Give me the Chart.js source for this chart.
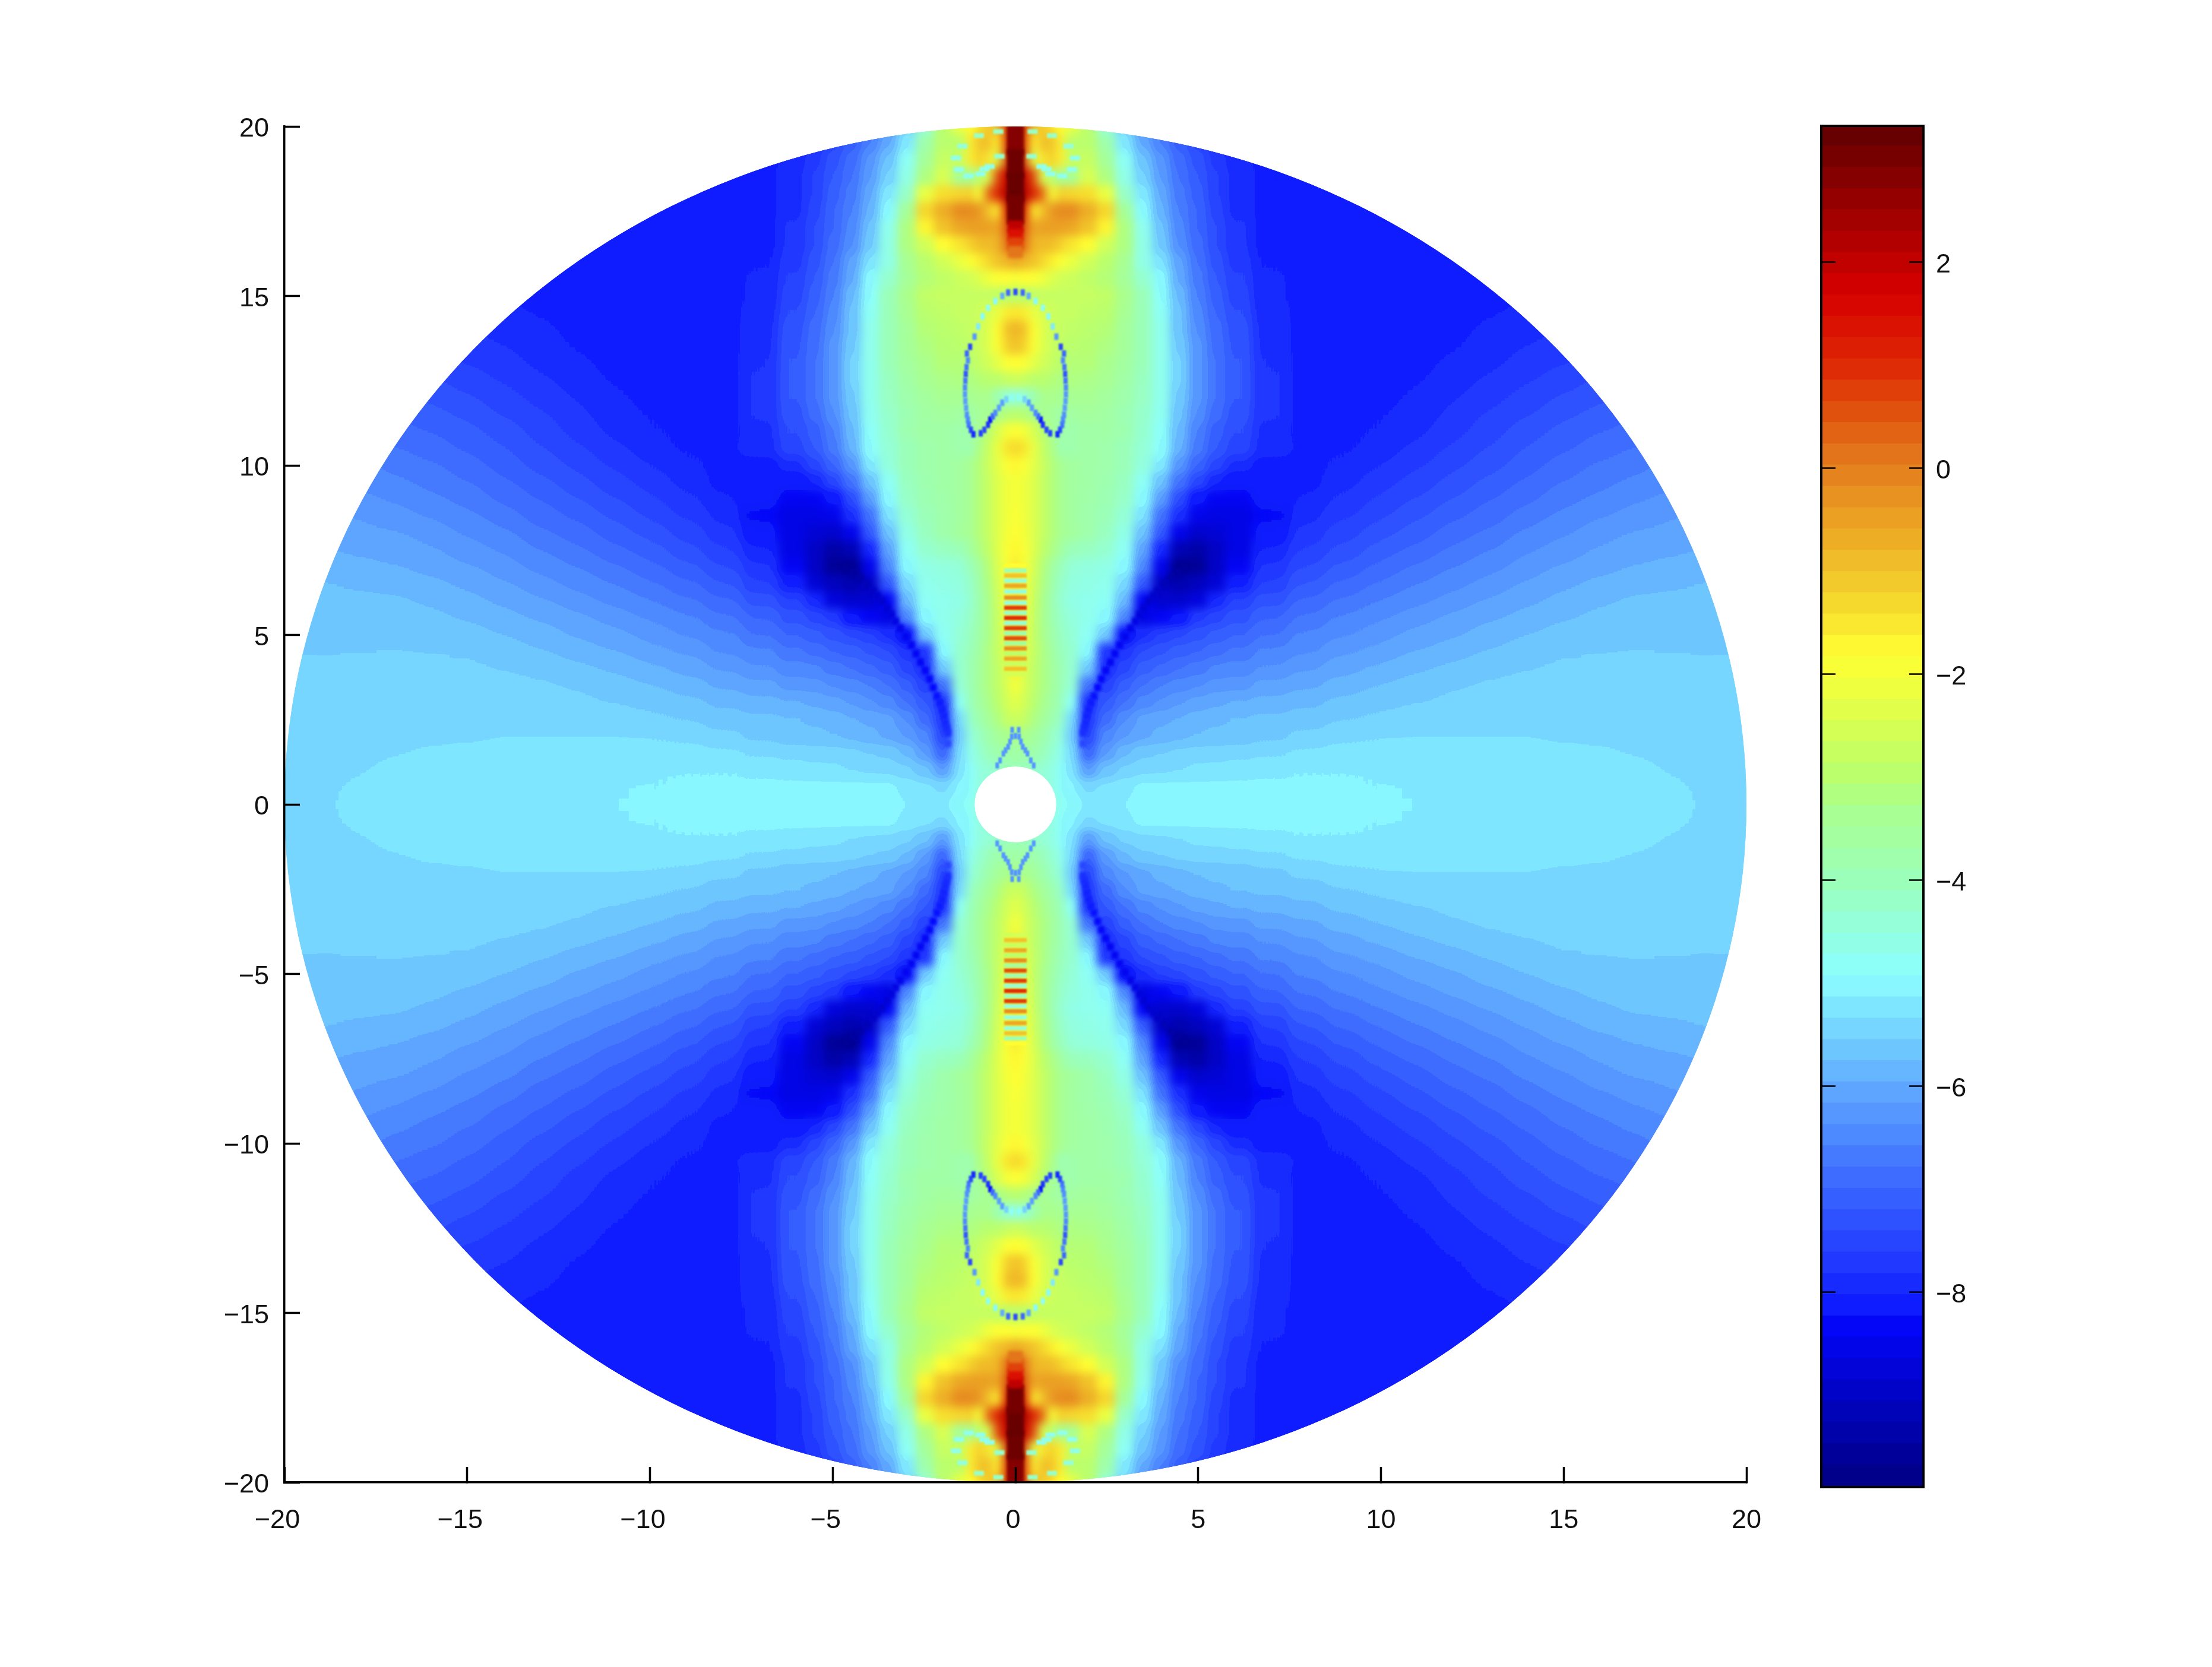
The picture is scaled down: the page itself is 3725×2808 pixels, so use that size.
<!DOCTYPE html>
<html><head><meta charset="utf-8"><title>Heat map</title>
<style>html,body{margin:0;padding:0;background:#fff}#w{position:relative;width:3725px;height:2808px}canvas{position:absolute;left:0;top:0}</style>
<script src="https://cdn.jsdelivr.net/npm/chart.js@4/dist/chart.umd.min.js"></script></head>
<body><div id="w"><canvas id="main" width="3725" height="2808"></canvas><canvas id="bar" width="3725" height="2808"></canvas></div>
<script>
const axisTicks=[-20,-15,-10,-5,0,5,10,15,20];
const colorbarTicks=[-8,-6,-4,-2,0,2];
const colorMin=-9.89,colorMax=3.32,colorLevels=64;
const columnsX=[0,.25,.5,.75,1,1.25,1.5,2,2.5,3,3.5,4,4.5,5,5.5,6,7,8,9,10,11,12,13,14,15,16,17,18,19,20];
const rowsY=[20,19.5,19,18.5,18,17.5,17,16.5,16,15.5,15,14.5,14,13.5,13,12.5,12,11.5,11,10.5,10,9.5,9,8.5,8,7.5,7,6.5,6,5.5,5,4.5,4,3.5,3,2.5,2,1.5,1,.5,0];
const quadrantValues=[
[2.7,.8,-1,-1.1,-1.4,-1.8,-2.2,-3,-4.4,-5.5,-6.4,-7,-7.5,-7.8,-8,-8.1],
[2.8,.8,-1.6,-1,-1,-1.6,-3,-3,-3.8,-5.2,-6,-6.6,-7.1,-7.5,-7.8,-8,-8.15,-8.15],
[3,.8,-2.5,-1.5,-1.2,-1.6,-2.8,-2.8,-3.5,-4.8,-5.7,-6.3,-6.9,-7.3,-7.7,-7.95,-8.1,-8.15,-8.15],
[3.1,1.9,.6,-2.5,-3,-3.5,-3.5,-2.5,-3.2,-4.6,-5.5,-6.2,-6.8,-7.2,-7.6,-7.9,-8.1,-8.15,-8.15,-8.2],
[3.2,2.2,1,.2,-2,-1.2,-1.3,-1.4,-2.2,-4.2,-5.2,-6,-6.7,-7.1,-7.6,-7.9,-8.1,-8.15,-8.15,-8.2],
[3,1.2,-1.5,-1,-.4,-.2,-.2,-.7,-1.3,-3.5,-5,-5.9,-6.6,-7,-7.5,-7.9,-8.1,-8.15,-8.15,-8.2,-8.2],
[2.5,.5,-.6,-.5,-.5,-.5,-.6,-1,-1.7,-3.2,-4.7,-5.7,-6.5,-7,-7.4,-7.8,-8.1,-8.15,-8.2,-8.2,-8.2,-8.2],
[.7,.2,-.8,-.9,-.9,-1.2,-1.5,-1.8,-2.6,-3.2,-4.6,-5.6,-6.4,-6.9,-7.4,-7.8,-8.1,-8.15,-8.2,-8.2,-8.2,-8.2],
[-.6,-.8,-1,-1.3,-1.6,-1.9,-2.2,-2.6,-3,-3.4,-4.6,-5.3,-6.1,-6.8,-7.3,-7.7,-8.05,-8.15,-8.2,-8.2,-8.2,-8.2,-8.1],
[-2,-1.8,-1.9,-2.1,-2.4,-2.6,-2.7,-2.9,-3.1,-3.5,-4.3,-5,-6,-6.7,-7.2,-7.6,-8,-8.1,-8.2,-8.2,-8.2,-8.2,-8.1,-8.1],
[-3,-3,-2.9,-2.8,-2.8,-2.8,-2.8,-2.8,-2.9,-3.3,-4,-4.9,-5.8,-6.6,-7.1,-7.5,-8,-8.1,-8.15,-8.2,-8.2,-8.15,-8.1,-8.05],
[-1.5,-1.6,-2.2,-2.5,-2.7,-2.8,-2.8,-2.9,-3,-3.4,-4,-4.8,-5.7,-6.5,-7,-7.4,-7.95,-8.1,-8.15,-8.2,-8.2,-8.1,-8.05,-8,-7.9],
[-.8,-1,-1.8,-2.4,-2.7,-2.8,-2.9,-3,-3.1,-3.5,-4,-4.7,-5.7,-6.4,-6.9,-7.3,-7.9,-8.1,-8.15,-8.2,-8.15,-8.1,-8,-7.9,-7.85],
[-1,-1.2,-1.9,-2.4,-2.7,-2.9,-3,-3.05,-3.2,-3.5,-4,-4.7,-5.6,-6.3,-6.85,-7.25,-7.9,-8.1,-8.15,-8.15,-8.1,-8.05,-7.95,-7.85,-7.75,-7.65],
[-1.8,-1.9,-2.3,-2.6,-2.8,-3,-3.1,-3.1,-3.3,-3.6,-4,-4.7,-5.5,-6.3,-6.8,-7.2,-7.85,-8.1,-8.15,-8.15,-8.1,-8,-7.9,-7.75,-7.65,-7.5],
[-2.7,-2.8,-3,-3,-3.1,-3.2,-3.2,-3.25,-3.4,-3.7,-4.1,-4.7,-5.5,-6.3,-6.8,-7.2,-7.8,-8.1,-8.15,-8.15,-8.05,-7.95,-7.8,-7.65,-7.5,-7.4,-7.25],
[-4.5,-4.4,-3.9,-3.3,-3.3,-3.4,-3.4,-3.4,-3.55,-3.8,-4.15,-4.7,-5.6,-6.3,-6.8,-7.2,-7.8,-8.1,-8.15,-8.1,-8,-7.85,-7.7,-7.55,-7.4,-7.25,-7.1],
[-3,-3.1,-3.3,-3.4,-3.5,-3.7,-3.6,-3.55,-3.65,-3.9,-4.25,-4.75,-5.7,-6.4,-6.9,-7.3,-7.8,-8.1,-8.15,-8.05,-7.95,-7.8,-7.6,-7.45,-7.25,-7.15,-7.05],
[-1.9,-2,-2.5,-3,-3.4,-3.8,-3.8,-3.7,-3.7,-3.85,-4.3,-4.85,-5.8,-6.6,-7.1,-7.4,-7.9,-8.1,-8.1,-8,-7.9,-7.7,-7.5,-7.3,-7.15,-7,-6.9,-6.8],
[-1.3,-1.5,-2.2,-2.8,-3.2,-3.9,-3.8,-3.7,-3.8,-4,-4.4,-4.9,-5.9,-6.7,-7.2,-7.5,-7.9,-8.05,-8.05,-7.95,-7.8,-7.6,-7.4,-7.2,-7.05,-6.9,-6.8,-6.6],
[-1.7,-1.9,-2.3,-2.7,-3.1,-3.4,-3.6,-3.7,-3.8,-4,-4.5,-5.2,-6.3,-7,-7.5,-7.9,-8.15,-8.1,-8,-7.85,-7.65,-7.45,-7.3,-7.1,-6.9,-6.75,-6.65,-6.5],
[-2,-2.1,-2.4,-2.8,-3.1,-3.4,-3.6,-3.7,-3.85,-4.1,-4.8,-5.7,-6.8,-7.5,-8,-8.2,-8.2,-8.1,-7.9,-7.7,-7.55,-7.35,-7.15,-6.95,-6.8,-6.65,-6.55,-6.45],
[-2,-2.1,-2.4,-2.8,-3.1,-3.4,-3.6,-3.75,-3.9,-4.2,-5,-6.2,-7.4,-8.2,-8.4,-8.4,-8.2,-8,-7.8,-7.6,-7.4,-7.2,-7,-6.85,-6.65,-6.55,-6.4,-6.3,-6.2],
[-1.9,-2.1,-2.4,-2.8,-3.1,-3.4,-3.6,-3.8,-4,-4.4,-5.3,-6.8,-7.9,-8.5,-8.6,-8.6,-8.35,-7.9,-7.65,-7.45,-7.25,-7.05,-6.9,-6.7,-6.55,-6.4,-6.3,-6.2,-6.1],
[-1.8,-2,-2.4,-2.8,-3.1,-3.4,-3.55,-3.8,-4.1,-4.6,-5.7,-7.2,-8.5,-8.9,-8.8,-8.6,-8.2,-7.75,-7.5,-7.3,-7.1,-6.9,-6.75,-6.55,-6.4,-6.25,-6.15,-6.1,-6],
[-1.7,-1.9,-2.4,-2.9,-3.2,-3.6,-4,-4.1,-4.3,-4.8,-6.1,-8,-9.2,-9.4,-9,-8.6,-8,-7.6,-7.35,-7.1,-6.95,-6.75,-6.6,-6.4,-6.3,-6.15,-6.05,-6,-5.95],
[-1.5,-1.9,-2.5,-3.1,-3.6,-4,-4.4,-4.5,-4.6,-5,-6.5,-8.5,-9.7,-9.6,-9,-8.4,-7.8,-7.4,-7.15,-6.95,-6.75,-6.6,-6.45,-6.3,-6.15,-6.05,-5.95,-5.9,-5.85,-5.8],
[-1.5,-2,-2.6,-3.2,-3.7,-4.2,-4.5,-4.6,-4.7,-5.4,-7.2,-9,-9.3,-9.1,-8.8,-8.1,-7.6,-7.2,-6.95,-6.75,-6.6,-6.45,-6.3,-6.15,-6,-5.9,-5.85,-5.8,-5.75,-5.7],
[-1.4,-2,-2.7,-3.3,-3.8,-4.3,-4.6,-4.7,-4.8,-5.8,-8.4,-8.9,-8.9,-8.7,-8,-7.6,-7.3,-6.95,-6.75,-6.6,-6.45,-6.3,-6.15,-6,-5.9,-5.8,-5.7,-5.7,-5.65,-5.6],
[-1.2,-2.1,-2.8,-3.3,-3.8,-4.2,-4.5,-4.7,-5,-6.5,-8.6,-8.4,-8.2,-7.7,-7.5,-7.3,-7,-6.75,-6.55,-6.4,-6.25,-6.1,-6,-5.9,-5.8,-5.7,-5.65,-5.6,-5.6,-5.55],
[-1.2,-2.2,-2.8,-3.3,-3.7,-4.1,-4.4,-4.8,-5.6,-8.3,-7.9,-7.6,-7.45,-7.3,-7.15,-7,-6.8,-6.55,-6.4,-6.25,-6.1,-6,-5.85,-5.75,-5.65,-5.6,-5.57,-5.57,-5.57,-5.57],
[-1.4,-2.3,-2.8,-3.2,-3.6,-4,-4.3,-5,-7.8,-7.8,-7.4,-7.25,-7.1,-7,-6.85,-6.75,-6.55,-6.4,-6.2,-6.1,-5.95,-5.85,-5.75,-5.65,-5.57,-5.55,-5.55,-5.56,-5.56,-5.56],
[-1.6,-2.4,-2.9,-3.2,-3.5,-3.9,-4.3,-5.6,-7.9,-7.5,-7.1,-6.95,-6.8,-6.7,-6.55,-6.5,-6.35,-6.2,-6.05,-5.9,-5.8,-5.7,-5.6,-5.55,-5.52,-5.5,-5.5,-5.5,-5.52,-5.52],
[-1.9,-2.5,-2.9,-3.2,-3.5,-3.9,-4.4,-6.8,-7.6,-7.1,-6.8,-6.6,-6.5,-6.4,-6.3,-6.25,-6.1,-6,-5.85,-5.75,-5.65,-5.55,-5.5,-5.48,-5.45,-5.45,-5.45,-5.45,-5.48,-5.48],
[-2.3,-2.6,-3,-3.3,-3.6,-4,-4.8,-7.8,-7.2,-6.8,-6.5,-6.35,-6.2,-6.1,-6,-5.95,-5.9,-5.8,-5.7,-5.6,-5.55,-5.5,-5.48,-5.45,-5.45,-5.45,-5.45,-5.45,-5.45,-5.45],
[-2.7,-2.8,-3.2,-3.5,-3.8,-4.2,-5.4,-7.7,-6.9,-6.4,-6.1,-6,-5.95,-5.85,-5.8,-5.75,-5.7,-5.65,-5.55,-5.5,-5.45,-5.45,-5.45,-5.45,-5.45,-5.45,-5.45,-5.45,-5.45,-5.45],
[-3.3,-3.3,-3.5,-3.8,-4.1,-4.5,-5.6,-7.5,-6.5,-6.2,-6,-5.9,-5.8,-5.75,-5.7,-5.7,-5.6,-5.5,-5.4,-5.35,-5.35,-5.35,-5.35,-5.35,-5.4,-5.42,-5.42,-5.42,-5.45,-5.45],
[-3.7,-3.7,-3.8,-4,-4.3,-4.7,-5.4,-7,-6.2,-5.8,-5.6,-5.55,-5.5,-5.45,-5.45,-5.42,-5.38,-5.3,-5.25,-5.25,-5.25,-5.25,-5.25,-5.25,-5.28,-5.3,-5.38,-5.42,-5.45,-5.45],
[-4,-4,-4.2,-4.4,-4.5,-4.9,-5.3,-6.2,-5.7,-5.5,-5.4,-5.38,-5.35,-5.3,-5.28,-5.25,-5.2,-5.15,-5.15,-5.15,-5.15,-5.15,-5.15,-5.15,-5.15,-5.2,-5.28,-5.38,-5.42,-5.42],
[-4.5,-4.5,-4.5,-4.5,-4.5,-4.9,-5.1,-5.4,-5.3,-5.2,-5.1,-5.1,-5.1,-5.1,-5.1,-5.1,-5.1,-5.1,-5.1,-5.15,-5.15,-5.15,-5.15,-5.15,-5.15,-5.15,-5.18,-5.3,-5.4,-5.42],
[-4.5,-4.5,-4.5,-4.5,-4.5,-4.8,-4.9,-5.2,-5.15,-5.15,-5,-5,-5,-5,-5,-5,-5,-5,-5,-5.1,-5.15,-5.15,-5.15,-5.15,-5.15,-5.15,-5.15,-5.25,-5.38,-5.42]
];
// thin features read separately: [x, y, value]
const stripeDetail=[[0,19.6,2.8],[0,18.9,3.1],[0,18.2,3.2],[0,17.55,3]];
const stripeTail=[[0,17.05,2],[0,16.8,1.4],[0,16.55,.7],[0,16.3,.1]];
const curveDetail=[[0,15.12,-7.5],[.2,15.1,-7],[.36,15,-6],[.55,14.85,-5],[.75,14.65,-4.8],[.9,14.4,-5],[1.02,14.1,-5.2],[1.12,13.8,-6.3],[1.24,13.5,-7.5],[1.33,13.3,-7],[1.3,13.1,-6.5],[1.34,12.9,-6.8],[1.36,12.7,-7.3],[1.37,12.5,-6.8],[1.38,12.3,-6.5],[1.38,12.1,-6.3],[1.37,11.9,-6.2],[1.35,11.7,-6.2],[1.33,11.5,-6.4],[1.3,11.35,-6.5],[1.28,11.2,-6.8],[1.22,11.05,-7.5],[1.15,10.92,-8],[.95,10.95,-7.6],[.85,11.05,-7.5],[.75,11.2,-7.8],[.69,11.35,-8.2],[.62,11.45,-7],[.55,11.55,-6.5],[.45,11.7,-6.2],[.36,11.85,-6.2],[.25,11.95,-5.5],[.1,12,-4.8]];
const loopDetail=[[.47,19.85,-4.2],[1,19.73,-4.2],[1.45,19.42,-4.5],[1.63,19.07,-4.7],[1.55,18.73,-4.7],[1.28,18.54,-4.7],[.96,18.6,-4.7],[.44,19.12,-4.3],[.71,18.82,-4.7],[.85,18.74,-4.7]];
const ridgeDetail=[[4.6,7,-9.6],[4.42,6.85,-9.5],[4.25,6.7,-9.4],[4.08,6.5,-9.2],[3.9,6.3,-9],[3.78,6.15,-8.9],[3.65,6,-8.9],[3.52,5.8,-8.8],[3.4,5.6,-8.7],[3.28,5.4,-8.6],[3.15,5.2,-8.5],[3,4.95,-8.45],[2.85,4.7,-8.4],[2.72,4.45,-8.4],[2.6,4.2,-8.4],[2.47,3.95,-8.35],[2.35,3.7,-8.3],[2.25,3.45,-8.25],[2.15,3.2,-8.2],[2.07,3,-8.15],[2,2.8,-8.1],[1.95,2.6,-8.05],[1.92,2.4,-8],[1.88,2.25,-7.95],[1.85,2.1,-7.9],[1.85,1.8,-7.5]];
const rippleDetail=[[0,7.05,-1.8],[0,6.9,-4],[0,6.75,-1],[0,6.6,-4.5],[0,6.45,-.6],[0,6.28,-4.6],[0,6.1,-.2],[0,5.95,-4.5],[0,5.8,.8],[0,5.65,-4.2],[0,5.5,1],[0,5.35,-4.4],[0,5.2,.8],[0,5.05,-3.9],[0,4.9,.6],[0,4.75,-3.6],[0,4.6,-.2],[0,4.45,-3],[0,4.3,-.6],[0,4.15,-2.8],[0,4,-1],[0,3.85,-2.6]];
const apexDetail=[[0,2.02,-6.3],[.09,2.2,-6.3],[.1,2,-6.3],[.15,1.85,-6.3],[.2,1.7,-6.3],[.27,1.6,-6.3],[.33,1.5,-6.3],[.42,1.3,-6.3],[.5,1.15,-6.3]];
const detailGroups=[[stripeDetail,.46,.85],[stripeTail,.4,.35],[curveDetail,.12,.2],[loopDetail,.28,.14],[ridgeDetail,.2,.22],[rippleDetail,.62,.13],[apexDetail,.1,.18]];
const colorStops=[[0,0,0,130],[.125,3,6,255],[.13,12,25,255],[.15,25,45,255],[.22,58,102,255],[.294,95,170,255],[.375,140,255,255],[.446,155,255,185],[.5,170,255,140],[.52,185,255,110],[.59,240,255,60],[.61,255,255,50],[.65,245,215,45],[.75,228,125,30],[.786,225,85,15],[.824,222,40,5],[.875,215,0,0],[1,95,0,0]];

function rgbParts(t){t=Math.max(0,Math.min(1,t));let k=0;while(k<colorStops.length-2&&t>colorStops[k+1][0])k++;
 const a=colorStops[k],b=colorStops[k+1],f=(t-a[0])/(b[0]-a[0]);
 return [1,2,3].map(j=>Math.round(a[j]+(b[j]-a[j])*f));}
const rgbAt=t=>`rgb(${rgbParts(t).join(',')})`;
const palette=[];for(let i=0;i<colorLevels;i++)palette.push(rgbAt((i+.5)/colorLevels));
const colorOf=v=>rgbAt((v-colorMin)/(colorMax-colorMin));
const minus=v=>v<0?'\u2212'+Math.abs(v):String(v);

const cellPoints=[];
quadrantValues.forEach((row,ri)=>row.forEach((v,ci)=>{
 const y=rowsY[ri],x=columnsX[ci];
 const x0=ci?(columnsX[ci-1]+x)/2:-columnsX[1]/2,x1=ci<columnsX.length-1?(columnsX[ci+1]+x)/2:x+.5;
 const y1=ri?(rowsY[ri-1]+y)/2:y+.25,y0=ri<rowsY.length-1?(rowsY[ri+1]+y)/2:y-.25;
 const w=x1-x0,h=y1-y0,cx=(x0+x1)/2,cy=(y0+y1)/2;
 for(const sx of x?[1,-1]:[1])for(const sy of y?[1,-1]:[1])cellPoints.push({x:sx*cx,y:sy*cy,v,w,h});
}));
const detailPoints=[];
detailGroups.forEach(([list,w,h])=>list.forEach(([x,y,v])=>{
 for(const sx of x?[1,-1]:[1])for(const sy of [1,-1])detailPoints.push({x:sx*x,y:sy*y,v,w,h});}));

const spriteCache=new Map();
function sprite(w,h,color,soft){const key=[w,h,color,soft].join();let c=spriteCache.get(key);if(c)return c;
 c=document.createElement('canvas');const pad=soft?8:1;c.width=w+pad*2;c.height=h+pad*2;const g=c.getContext('2d');
 g.fillStyle=color;if(soft){g.filter=`blur(${Math.min(2.5,Math.max(1,Math.min(w,h)/5))}px)`;g.fillRect(pad,pad,w,h);}else g.fillRect(0,0,c.width,c.height);
 spriteCache.set(key,c);return c;}
const sizeOf=(ctx,soft)=>{const p=ctx.raw,a=ctx.chart.chartArea;if(!p||!a)return 'circle';
 return sprite(Math.max(2,Math.round(p.w/40*(a.right-a.left))),Math.max(2,Math.round(p.h/40*(a.bottom-a.top))),colorOf(p.v),soft);};
function diskPath(ctx,chart){const X=chart.scales.x,Y=chart.scales.y,cx=X.getPixelForValue(0),cy=Y.getPixelForValue(0);
 const ux=X.getPixelForValue(1)-cx,uy=cy-Y.getPixelForValue(1);
 ctx.beginPath();ctx.ellipse(cx,cy,20*ux,20*uy,0,0,Math.PI*2);ctx.moveTo(cx+1.12*ux,cy);ctx.ellipse(cx,cy,1.12*ux,1.12*uy,0,0,Math.PI*2);}
// the reference shows the blue side of the scale as flat colour bands: snap blue pixels to the colour levels
function snapBlueBands(c,a){const L=Math.floor(a.left)-4,T=Math.floor(a.top)-4,W=Math.ceil(a.right-a.left)+8,H=Math.ceil(a.bottom-a.top)+8;
 const levels=[];for(let i=0;i<colorLevels;i++){const p=rgbParts((i+.5)/colorLevels);if(p[2]>=250)levels.push(p);}
 const lut=[];for(let g=0;g<256;g++){let best=levels[0];for(const p of levels)if(Math.abs(p[1]-g)<Math.abs(best[1]-g))best=p;lut.push(best);}
 const im=c.getImageData(L,T,W,H),d=im.data;
 for(let i=0;i<d.length;i+=4){if(d[i+3]===255&&d[i+2]>=250){const p=lut[d[i+1]];d[i]=p[0];d[i+1]=p[1];}}
 c.putImageData(im,L,T);}
const diskPlugin={id:'disk',
 beforeDatasetDraw(chart,args){if(args.index===0){const c=chart.ctx;c.save();diskPath(c,chart);c.clip('evenodd');}},
 afterDatasetDraw(chart,args){const c=chart.ctx;
  if(args.index===0){c.restore();return;}
  const cv=chart.canvas,W=cv.width,H=cv.height,off=document.createElement('canvas');off.width=W;off.height=H;off.getContext('2d').drawImage(cv,0,0);
  const X=chart.scales.x,a10=X.getPixelForValue(-10),a6=X.getPixelForValue(-6),b6=X.getPixelForValue(6),b10=X.getPixelForValue(10);
  // near-axis layer with a small blur, faded out sideways into the wider blur of the far field
  const near=document.createElement('canvas');near.width=W;near.height=H;const n=near.getContext('2d');
  n.filter='blur(8px)';n.drawImage(off,0,0);n.filter='none';n.globalCompositeOperation='destination-over';n.drawImage(off,0,0);
  n.globalCompositeOperation='destination-in';const g=n.createLinearGradient(a10,0,b10,0),s=(a6-a10)/(b10-a10);
  g.addColorStop(0,'rgba(0,0,0,0)');g.addColorStop(s,'#000');g.addColorStop(1-s,'#000');g.addColorStop(1,'rgba(0,0,0,0)');
  n.fillStyle=g;n.fillRect(0,0,W,H);
  c.save();c.setTransform(1,0,0,1,0,0);c.clearRect(0,0,W,H);diskPath(c,chart);c.clip('evenodd');
  c.filter='blur(20px)';c.drawImage(off,0,0);c.filter='none';
  c.globalCompositeOperation='destination-over';c.drawImage(off,0,0);c.globalCompositeOperation='source-over';
  c.drawImage(near,0,0);c.restore();
  snapBlueBands(c,chart.chartArea);},
 beforeDraw(chart){
  chart.scales.x.getLabelItems().forEach(it=>{const s=String(it.label);it.options.translation[0]+=s[0]==='\u2212'?-12:(s==='0'?-4:0);});
  chart.scales.y.getLabelItems().forEach(it=>{it.options.translation[1]+=5;});}
};
const axisFont={family:'"Liberation Sans",sans-serif',size:45};
function axisOptions(pos,size){return {type:'linear',position:pos,min:-20,max:20,
 afterBuildTicks:s=>{s.ticks=axisTicks.map(value=>({value}));},
 afterFit:s=>{if(pos==='left')s.width=size;else s.height=size;},
 grid:{z:1,drawOnChartArea:false,drawTicks:true,tickLength:-26,tickWidth:3.5,tickColor:'#000'},
 border:{z:1,display:true,color:'#000',width:3.5},
 ticks:{z:1,color:'#111',font:axisFont,padding:pos==='left'?52:64,autoSkip:false,maxRotation:0,callback:minus}};}
new Chart(document.getElementById('main'),{type:'scatter',
 data:{datasets:[
  {label:'detail',data:detailPoints,pointStyle:c=>sizeOf(c,true),pointRadius:1,clip:false},
  {label:'cells',data:cellPoints,pointStyle:c=>sizeOf(c,false),pointRadius:1,clip:false}]},
 options:{responsive:false,animation:false,events:[],
  layout:{padding:{left:0,top:213,right:3725-2941,bottom:0}},
  plugins:{legend:{display:false},tooltip:{enabled:false}},
  scales:{x:axisOptions('bottom',2808-2497),y:axisOptions('left',479)}},
 plugins:[diskPlugin]});

const levelBars=palette.map((color,i)=>{const step=(colorMax-colorMin)/colorLevels,lo=colorMin+i*step;
 return {label:'level '+i,data:[[lo,Math.min(colorMax,lo+step*1.06)]],backgroundColor:color,borderWidth:0,grouped:false,barPercentage:1,categoryPercentage:1,yAxisID:'y'};});
function barAxis(pos,size,labels){return {type:'linear',position:pos,min:colorMin,max:colorMax,
 afterBuildTicks:s=>{s.ticks=colorbarTicks.map(value=>({value}));},afterFit:s=>{s.width=size;},
 grid:{z:1,drawOnChartArea:false,drawTicks:true,tickLength:-24,tickWidth:2.5,tickColor:'#000'},
 border:{display:false},
 ticks:{z:1,display:labels,color:'#111',font:axisFont,padding:45,autoSkip:false,callback:minus}};}
new Chart(document.getElementById('bar'),{type:'bar',
 data:{labels:['colour scale'],datasets:levelBars},
 options:{responsive:false,animation:false,events:[],
  layout:{padding:{left:0,top:212,right:0,bottom:2808-2505}},
  plugins:{legend:{display:false},tooltip:{enabled:false}},
  scales:{x:{display:false},y:barAxis('right',3725-3239,true),yl:barAxis('left',3067,false)}},
 plugins:[{id:'frame',
  beforeDraw(chart){chart.scales.y.getLabelItems().forEach(it=>{it.options.translation[1]+=5;});},
  afterDatasetsDraw(chart){const a=chart.chartArea,c=chart.ctx;c.save();c.strokeStyle='#000';c.lineWidth=4;c.strokeRect(a.left,a.top,a.right-a.left,a.bottom-a.top);c.restore();}}]});
</script></body></html>
